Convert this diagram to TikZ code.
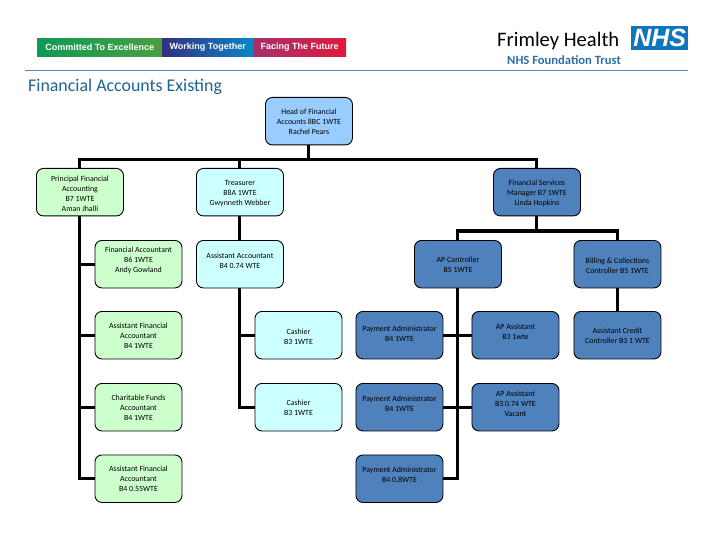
\documentclass[tikz,border=0pt]{standalone}
\usepackage{fontspec}
\setmainfont{Carlito}
\newfontfamily\logofont{Liberation Sans}
\definecolor{headblue}{HTML}{99CCFF}
\definecolor{palegreen}{HTML}{CCFFCC}
\definecolor{palecyan}{HTML}{CCFFFF}
\definecolor{steel}{HTML}{4F81BD}
\definecolor{rulecol}{HTML}{4A90C4}
\definecolor{titlecol}{HTML}{1F6391}
\definecolor{nhsblue}{HTML}{0F75BC}
\definecolor{trustcol}{HTML}{2F6FA8}
\definecolor{barA}{HTML}{0F9A55}
\definecolor{barB}{HTML}{4A9E40}
\definecolor{barC}{HTML}{33307F}
\definecolor{barD}{HTML}{0A86C8}
\definecolor{barE}{HTML}{A5306C}
\definecolor{barF}{HTML}{E01A3C}
\newlength\btshift
\newcommand\bt[2]{\setlength\btshift{#1}\addtolength\btshift{-3pt}\raisebox{\btshift}[0pt][0pt]{\begin{tabular}[c]{@{}c@{}}#2\end{tabular}}}
\tikzset{
  orgbox/.style={draw=black,line width=0.9pt,rounded corners=7pt,minimum width=87pt,minimum height=47.5pt,inner sep=0pt,anchor=north west,font=\fontsize{7.9}{10}\selectfont},
  greenbox/.style={orgbox,fill=palegreen},
  cyanbox/.style={orgbox,fill=palecyan},
  steelbox/.style={orgbox,fill=steel},
  headbox/.style={orgbox,fill=headblue},
  link/.style={draw=black,line width=3pt,line cap=butt},
  valuebar/.style={minimum height=18pt,inner sep=0pt,anchor=north west,text=white,font=\logofont\bfseries\fontsize{9}{10}\selectfont},
}
\begin{document}
\begin{tikzpicture}[x=1pt,y=-1pt]
\useasboundingbox (0,0) rectangle (720,540);
\fill[white] (0,0) rectangle (720,540);
% header
\node[valuebar,minimum width=125pt,left color=barA,right color=barB] (v1) at (37,38) {Committed To Excellence};
\node[valuebar,minimum width=91pt,left color=barC,right color=barD] (v2) at (162,38) {Working Together};
\node[valuebar,minimum width=93pt,left color=barE,right color=barF] (v3) at (253,38) {Facing The Future};
\node[anchor=west,inner sep=0pt,font=\fontsize{20.6}{24}\selectfont] (frimley) at (497,41) {Frimley Health};
\node[fill=nhsblue,minimum width=57pt,minimum height=24pt,inner sep=0pt,anchor=north west,text=white,font=\logofont\bfseries\itshape\fontsize{25}{25}\selectfont] (nhs) at (631,26) {NHS};
\node[anchor=west,inner sep=0pt,text=trustcol,font=\fontsize{12.6}{14}\bfseries\selectfont] (trust) at (507,60.5) {NHS Foundation Trust};
\coordinate (ruleL) at (25,70.7);
\coordinate (ruleR) at (688,70.7);
\draw[rulecol,line width=1.4pt] (ruleL) -- (ruleR);
\node[anchor=west,inner sep=0pt,text=titlecol,font=\fontsize{17.9}{20}\selectfont] (title) at (28,86.7) {Financial Accounts Existing};
% boxes
\node[headbox] (head) at (265,97) {\bt{0pt}{Head of Financial\\Accounts 8BC 1WTE\\Rachel Pears}};
\node[greenbox] (prin) at (36,168) {\bt{-1pt}{Principal Financial\\Accounting\\B7 1WTE\\Aman Jhalli}};
\node[cyanbox] (treas) at (196,168) {\bt{0pt}{Treasurer\\B8A 1WTE\\Gwynneth Webber}};
\node[steelbox] (fsm) at (493,168) {\bt{-0.5pt}{Financial Services\\Manager B7 1WTE\\Linda Hopkins}};
\node[greenbox] (fa1) at (94.5,240) {\bt{5pt}{Financial Accountant\\B6 1WTE\\Andy Gowland}};
\node[greenbox] (fa2) at (94.5,311) {\bt{0pt}{Assistant Financial\\Accountant\\B4 1WTE}};
\node[greenbox] (fa3) at (94.5,383) {\bt{0pt}{Charitable Funds\\Accountant\\B4 1WTE}};
\node[greenbox] (fa4) at (94.5,454.5) {\bt{0pt}{Assistant Financial\\Accountant\\B4 0.55WTE}};
\node[cyanbox] (aa) at (196,240) {\bt{4pt}{Assistant Accountant\\B4 0.74 WTE}};
\node[cyanbox] (cash1) at (254.5,311) {\bt{-1pt}{Cashier\\B3 1WTE}};
\node[cyanbox] (cash2) at (254.5,383) {\bt{0pt}{Cashier\\B3 1WTE}};
\node[steelbox] (apc) at (414,240) {\bt{0pt}{AP Controller\\B5 1WTE}};
\node[steelbox] (bill) at (573.5,240) {\bt{-1pt}{Billing \& Collections\\Controller B5 1WTE}};
\node[steelbox] (pay1) at (355.5,311) {\bt{2pt}{Payment Administrator\\B4 1WTE}};
\node[steelbox] (pay2) at (355.5,383) {\bt{4pt}{Payment Administrator\\B4 1WTE}};
\node[steelbox] (pay3) at (355.5,454.5) {\bt{4pt}{Payment Administrator\\B4 0.8WTE}};
\node[steelbox] (apa1) at (471.5,311) {\bt{4pt}{AP Assistant\\B3 1wte}};
\node[steelbox] (apa2) at (471.5,383) {\bt{4pt}{AP Assistant\\B3 0.74 WTE\\Vacant}};
\node[steelbox] (cred) at (573.5,311) {\bt{-0.5pt}{Assistant Credit\\Controller B3 1 WTE}};
% connectors
\coordinate (busA) at (0,160);
\coordinate (busB) at (0,231);
\draw[link] (head.south) -- (head.south |- busA);
\draw[link] (prin.north) -- (prin.north |- busA) -- (fsm.north |- busA) -- (fsm.north);
\draw[link] (treas.north) -- (treas.north |- busA);
\draw[link] (prin.south) |- (fa4.west);
\draw[link] (prin.south |- fa1.west) -- (fa1.west);
\draw[link] (prin.south |- fa2.west) -- (fa2.west);
\draw[link] (prin.south |- fa3.west) -- (fa3.west);
\draw[link] (treas.south) -- (aa.north);
\draw[link] (aa.south) |- (cash2.west);
\draw[link] (aa.south |- cash1.west) -- (cash1.west);
\draw[link] (apc.north) -- (apc.north |- busB) -- (bill.north |- busB) -- (bill.north);
\draw[link] (fsm.south) -- (fsm.south |- busB);
\draw[link] (apc.south) |- (pay3.east);
\draw[link] (pay1.east) -- (apa1.west);
\draw[link] (pay2.east) -- (apa2.west);
\draw[link] (bill.south) -- (cred.north);
\end{tikzpicture}
\end{document}
